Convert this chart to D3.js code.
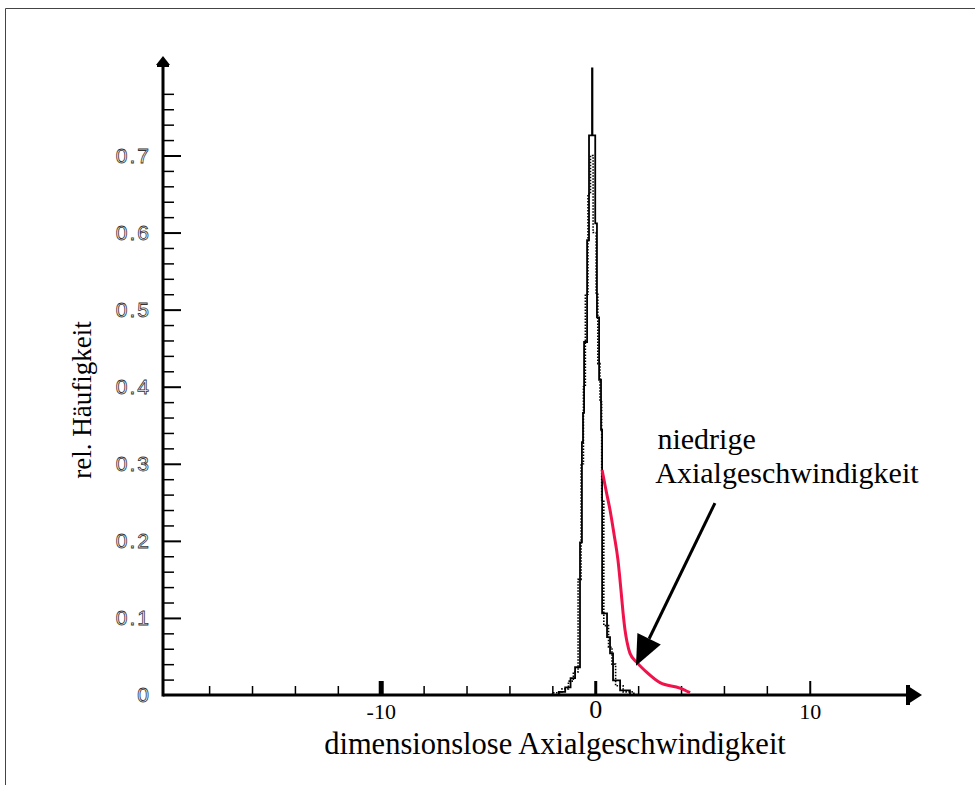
<!DOCTYPE html>
<html>
<head>
<meta charset="utf-8">
<script src="https://cdn.jsdelivr.net/npm/d3@7"></script>
<style>
  html, body { margin: 0; padding: 0; background: #fff; }
  svg { display: block; }
</style>
</head>
<body>
<svg id="chart" width="975" height="785"></svg>
<script>
// Histogram of the dimensionless axial velocity (step outline: bin left edge -> rel. frequency)
const histEdges  = [-1.70, -1.40, -1.15, -0.94, -0.71, -0.62, -0.57, -0.52, -0.38, -0.29, -0.15, -0.13, 0.00, 0.08, 0.18, 0.27, 0.32, 0.55, 0.69, 0.83, 1.16, 1.62];
const histValues = [0.004, 0.010, 0.022, 0.036, 0.198, 0.328, 0.366, 0.458, 0.590, 0.726, 0.813, 0.726, 0.612, 0.490, 0.409, 0.344, 0.106, 0.075, 0.054, 0.019, 0.006, 0.000];

// Second, finer-binned histogram drawn dotted on top
const hist2Edges  = [-2.00, -1.55, -1.25, -1.02, -0.80, -0.66, -0.55, -0.46, -0.34, -0.22, -0.10, 0.04, 0.12, 0.22, 0.30, 0.40, 0.62, 0.78, 0.95, 1.30, 1.80];
const hist2Values = [0.003, 0.008, 0.018, 0.030, 0.150, 0.300, 0.400, 0.520, 0.650, 0.700, 0.600, 0.520, 0.430, 0.380, 0.253, 0.090, 0.062, 0.040, 0.012, 0.004, 0.000];

// Distribution of the low axial velocity region
const lowX = [0.32, 0.50, 0.69, 0.88, 1.06, 1.20, 1.30, 1.39, 1.48, 1.62, 1.95, 2.42, 3.02, 3.95, 4.42];
const lowY = [0.292, 0.266, 0.240, 0.208, 0.175, 0.136, 0.106, 0.084, 0.069, 0.054, 0.042, 0.029, 0.016, 0.009, 0.003];

// Axis ticks and labels
const xMinorTicks = [-18, -16, -14, -12, -8, -6, -4, -2, 2, 4, 6, 8];
const xMajorTicks = [-10, 0, 10];
const xTickLabels = ["-10", "0", "10"];
const yMinorTicks = d3.range(1, 40).map(i => +(i * 0.02).toFixed(2)).filter(v => Math.abs(v * 10 - Math.round(v * 10)) > 1e-6);
const yMajorTicks = [0.1, 0.2, 0.3, 0.4, 0.5, 0.6, 0.7];
const yTickValues = [0, 0.1, 0.2, 0.3, 0.4, 0.5, 0.6, 0.7];
const yTickLabels = ["0", "0.1", "0.2", "0.3", "0.4", "0.5", "0.6", "0.7"];

// Annotation: arrow from text to the low-velocity tail
const arrowFrom = [5.58, 0.249];
const arrowTo   = [1.90, 0.038];
const noteLines = ["niedrige", "Axialgeschwindigkeit"];
const noteAt    = [[2.90, 0.319], [2.80, 0.275]];

const xTitle = "dimensionslose Axialgeschwindigkeit";
const yTitle = "rel. Häufigkeit";

const svg = d3.select("#chart");
const serif = "'Liberation Serif', 'Times New Roman', serif";
const sans = "'Liberation Sans', Arial, sans-serif";

const x = d3.scaleLinear().domain([-20.15, 15]).range([163, 917]);
const y = d3.scaleLinear().domain([0, 0.82]).range([695, 63]);

// Outer frame
svg.append("path")
  .attr("d", "M5.5,785 V8.5 H975")
  .attr("fill", "none").attr("stroke", "#444").attr("stroke-width", 1);

// Minor x ticks (pointing up)
svg.append("g").attr("transform", `translate(0,${y(0)})`)
  .call(d3.axisTop(x).tickValues(xMinorTicks).tickSize(9).tickFormat(""))
  .call(g => g.select(".domain").remove())
  .call(g => g.selectAll("line").attr("stroke", "#000").attr("stroke-width", 1.5));

// Major x ticks
svg.append("g").attr("transform", `translate(0,${y(0)})`)
  .call(d3.axisTop(x).tickValues(xMajorTicks).tickSize(14).tickFormat(""))
  .call(g => g.select(".domain").remove())
  .call(g => g.selectAll("line").attr("stroke", "#000")
    .attr("stroke-width", d => d === -10 ? 5 : (d === 0 ? 3 : 2)));

// x tick labels
svg.append("g").attr("transform", `translate(0,${y(0)})`)
  .call(d3.axisBottom(x).tickValues(xMajorTicks).tickSize(0).tickPadding(8)
    .tickFormat((d, i) => xTickLabels[i]))
  .call(g => g.select(".domain").remove())
  .call(g => g.selectAll("text")
    .attr("font-family", serif).attr("fill", "#000")
    .attr("font-size", d => d === 0 ? 26 : 22)
    .attr("dy", d => d === 0 ? "0.58em" : "0.71em"));

// Minor y ticks (pointing right)
svg.append("g").attr("transform", `translate(${x(-20.15)},0)`)
  .call(d3.axisRight(y).tickValues(yMinorTicks).tickSize(11).tickFormat(""))
  .call(g => g.select(".domain").remove())
  .call(g => g.selectAll("line").attr("stroke", "#000").attr("stroke-width", 1.5));

// Major y ticks
svg.append("g").attr("transform", `translate(${x(-20.15)},0)`)
  .call(d3.axisRight(y).tickValues(yMajorTicks).tickSize(18).tickFormat(""))
  .call(g => g.select(".domain").remove())
  .call(g => g.selectAll("line").attr("stroke", "#000").attr("stroke-width", 2));

// y tick labels (outlined sans digits)
svg.append("g").attr("transform", `translate(${x(-20.15)},0)`)
  .call(d3.axisLeft(y).tickValues(yTickValues).tickSize(0).tickPadding(12)
    .tickFormat((d, i) => yTickLabels[i]))
  .call(g => g.select(".domain").remove())
  .call(g => g.selectAll("text")
    .attr("font-family", sans).attr("font-size", 21)
    .attr("letter-spacing", 2)
    .attr("fill", "#fff").attr("stroke", "#333").attr("stroke-width", 0.8));

// Axis lines
svg.append("line")
  .attr("x1", x(-20.15)).attr("x2", 912).attr("y1", y(0)).attr("y2", y(0))
  .attr("stroke", "#000").attr("stroke-width", 3);
svg.append("line")
  .attr("x1", x(-20.15)).attr("x2", x(-20.15)).attr("y1", y(0) + 1.5).attr("y2", 64)
  .attr("stroke", "#000").attr("stroke-width", 3);

// Arrow heads on the axes
svg.append("path")
  .attr("d", `M${x(-20.15) - 7},65 L${x(-20.15) + 7},65 L${x(-20.15)},56 Z`)
  .attr("fill", "#000");
svg.append("rect").attr("x", x(-20.15) - 6).attr("y", 64).attr("width", 12).attr("height", 3).attr("fill", "#000");
svg.append("rect").attr("x", 906).attr("y", y(0) - 10).attr("width", 4).attr("height", 20).attr("fill", "#000");
svg.append("path")
  .attr("d", `M908,${y(0) - 9} L908,${y(0) + 9} L922,${y(0)} Z`)
  .attr("fill", "#000");

// Histogram outlines
const step = d3.line().x(d => x(d[0])).y(d => y(d[1])).curve(d3.curveStepAfter);
const histPts = [[histEdges[0], 0]].concat(histEdges.map((e, i) => [e, histValues[i]]));
const hist2Pts = [[hist2Edges[0], 0]].concat(hist2Edges.map((e, i) => [e, hist2Values[i]]));

svg.append("path").datum(hist2Pts)
  .attr("d", step)
  .attr("fill", "none").attr("stroke", "#000").attr("stroke-width", 1.6)
  .attr("stroke-dasharray", "1.5,1.5");

svg.append("path").datum(histPts)
  .attr("d", step)
  .attr("fill", "none").attr("stroke", "#000").attr("stroke-width", 1.8);

// Low-velocity curve
const smooth = d3.line().x(d => x(d[0])).y(d => y(d[1])).curve(d3.curveMonotoneX);
svg.append("path").datum(lowX.map((v, i) => [v, lowY[i]]))
  .attr("d", smooth)
  .attr("fill", "none").attr("stroke", "#f0124a").attr("stroke-width", 3);

// Annotation arrow
const ax0 = x(arrowFrom[0]), ay0 = y(arrowFrom[1]);
const ax1 = x(arrowTo[0]), ay1 = y(arrowTo[1]);
const ang = Math.atan2(ay1 - ay0, ax1 - ax0);
const headLen = 30, headHalf = 13;
const bx = ax1 - headLen * Math.cos(ang), by = ay1 - headLen * Math.sin(ang);
svg.append("line")
  .attr("x1", ax0).attr("y1", ay0).attr("x2", bx).attr("y2", by)
  .attr("stroke", "#000").attr("stroke-width", 3);
svg.append("path")
  .attr("d", `M${ax1},${ay1} L${bx + headHalf * Math.sin(ang)},${by - headHalf * Math.cos(ang)} L${bx - headHalf * Math.sin(ang)},${by + headHalf * Math.cos(ang)} Z`)
  .attr("fill", "#000");

// Annotation text
svg.append("g").selectAll("text").data(noteLines).join("text")
  .attr("x", (d, i) => x(noteAt[i][0]))
  .attr("y", (d, i) => y(noteAt[i][1]))
  .attr("font-family", serif).attr("font-size", 30).attr("fill", "#000")
  .text(d => d);

// Axis titles
svg.append("text")
  .attr("x", 555).attr("y", 754)
  .attr("text-anchor", "middle")
  .attr("font-family", serif).attr("font-size", 30.5).attr("fill", "#000")
  .text(xTitle);

svg.append("text")
  .attr("transform", "translate(91,400) rotate(-90)")
  .attr("text-anchor", "middle")
  .attr("font-family", serif).attr("font-size", 27).attr("fill", "#000")
  .text(yTitle);
</script>
</body>
</html>
